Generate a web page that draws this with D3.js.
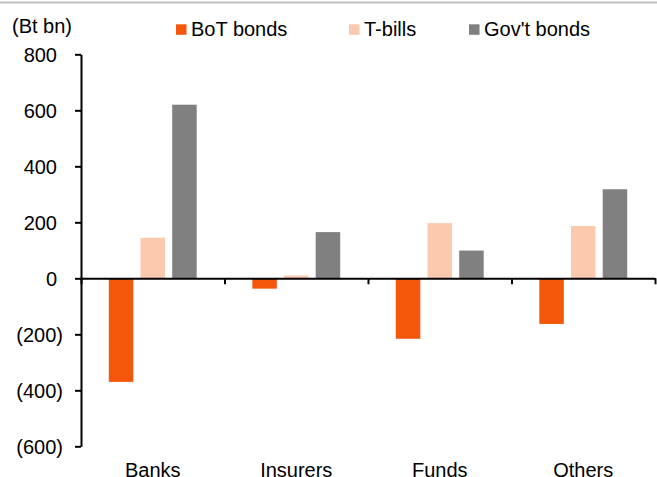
<!DOCTYPE html>
<html>
<head>
<meta charset="utf-8">
<script src="https://cdn.jsdelivr.net/npm/d3@7"></script>
<style>
  body { margin: 0; background: #fff; }
  svg { display: block; font-family: "Liberation Sans", Arial, sans-serif; }
</style>
</head>
<body>
<svg id="chart" width="657" height="477"></svg>
<script>
// data (Bt bn)
const categories = ["Banks", "Insurers", "Funds", "Others"]
const series = ["BoT bonds", "T-bills", "Gov't bonds"]
const botBonds = [-370, -37, -216, -163]
const tBills = [145, 10, 197, 187]
const govBonds = [620, 165, 99, 318]
const yTicks = [-600, -400, -200, 0, 200, 400, 600, 800]

const colors = ["#f4570b", "#fbc9ae", "#808080"]
const values = [botBonds, tBills, govBonds]

const svg = d3.select("#chart")
const W = 657, H = 477
const plotLeft = 81, plotRight = 655, plotTop = 54.3, plotBottom = 446.3

// thin grey rule across the top
svg.append("line")
  .attr("x1", 0).attr("x2", W)
  .attr("y1", 2.5).attr("y2", 2.5)
  .attr("stroke", "#c0c0c0")
  .attr("stroke-width", 2)

let y = d3.scaleLinear().domain([-600, 800]).range([plotBottom, plotTop])
let x0 = d3.scaleBand().domain(categories).range([plotLeft, plotRight]).padding(0)
let x1 = d3.scaleBand().domain(series).range([0, x0.bandwidth()])
  .paddingInner(0.227).paddingOuter(0.877)

// bars
series.forEach((s, si) => {
  svg.append("g").selectAll("rect")
    .data(categories)
    .enter().append("rect")
    .attr("x", c => x0(c) + x1(s))
    .attr("width", x1.bandwidth())
    .attr("y", (c, i) => y(Math.max(0, values[si][i])))
    .attr("height", (c, i) => Math.abs(y(values[si][i]) - y(0)))
    .attr("fill", colors[si])
})

// y axis
let yAxis = svg.append("g")
  .attr("transform", `translate(${plotLeft},0)`)
  .call(d3.axisLeft(y).tickValues(yTicks).tickSizeInner(6).tickSizeOuter(0)
    .tickFormat(d => d < 0 ? "(" + Math.abs(d) + ")" : d))
yAxis.select(".domain").attr("stroke", "#000").attr("stroke-width", 2)
yAxis.selectAll(".tick line").attr("stroke", "#000").attr("stroke-width", 2)
yAxis.selectAll(".tick text")
  .attr("x", d => d < 0 ? -18 : -24)
  .attr("dy", "0.35em")
  .attr("fill", "#000")
  .style("font-size", "20px")
  .style("font-family", "'Liberation Sans', Arial, sans-serif")

// x axis along zero with ticks at category boundaries
let xb = d3.scaleLinear().domain([0, categories.length]).range([plotLeft, plotRight])
let xAxis = svg.append("g")
  .attr("transform", `translate(0,${y(0)})`)
  .call(d3.axisBottom(xb).tickValues(d3.range(categories.length + 1))
    .tickFormat("").tickSizeInner(6).tickSizeOuter(0))
xAxis.select(".domain").attr("stroke", "#000").attr("stroke-width", 2)
xAxis.selectAll(".tick line").attr("stroke", "#000").attr("stroke-width", 2)

// category labels below the plot
svg.append("g").selectAll("text")
  .data(categories)
  .enter().append("text")
  .attr("x", c => x0(c) + x0.bandwidth() / 2)
  .attr("y", 477)
  .attr("text-anchor", "middle")
  .style("font-size", "20px")
  .text(c => c)

// unit label
svg.append("text")
  .attr("x", 12).attr("y", 33)
  .style("font-size", "20px")
  .text("(Bt bn)")

// legend
const legendX = [176, 349, 469]
series.forEach((s, i) => {
  svg.append("rect")
    .attr("x", legendX[i]).attr("y", 24.3)
    .attr("width", 10.5).attr("height", 10.5)
    .attr("fill", colors[i])
  svg.append("text")
    .attr("x", legendX[i] + 15).attr("y", 35.5)
    .style("font-size", "20px")
    .text(s)
})
</script>
</body>
</html>
